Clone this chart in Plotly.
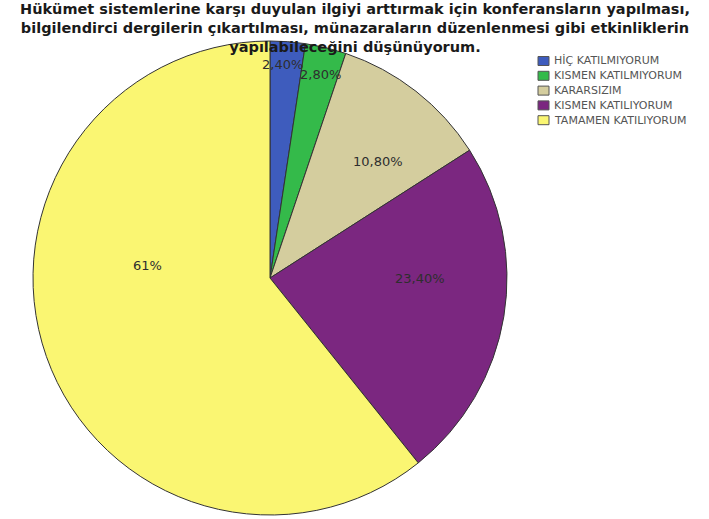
import plotly.graph_objects as go

categories = ["HİÇ KATILMIYORUM", "KISMEN KATILMIYORUM", "KARARSIZIM",
              "KISMEN KATILIYORUM", "TAMAMEN KATILIYORUM"]
values = [2.40, 2.80, 10.80, 23.40, 61.0]
value_labels = ["2,40%", "2,80%", "10,80%", "23,40%", "61%"]
colors = ["#3e5cbd", "#34ba4a", "#d4cd9e", "#7b2780", "#faf672"]

title_lines = [
    "Hükümet sistemlerine karşı duyulan ilgiyi arttırmak için konferansların yapılması,",
    "bilgilendirci dergilerin çıkartılması, münazaraların düzenlenmesi gibi etkinliklerin",
    "yapılabileceğini düşünüyorum.",
]

W, H = 709, 519


def X(px):
    return px / W


def Y(py):
    return 1 - py / H


cx, cy, r = 270, 278, 237

fig = go.Figure(go.Pie(
    labels=categories,
    values=values,
    sort=False,
    direction="clockwise",
    rotation=0,
    marker=dict(colors=colors, line=dict(color="#333333", width=1)),
    textinfo="none",
    hoverinfo="label+percent",
    showlegend=False,
    domain=dict(x=[X(cx - r), X(cx + r)], y=[Y(cy + r), Y(cy - r)]),
))

# value label placements (pixel centres in the window)
label_pos = [(282, 64), (320, 75), (378, 162), (420, 278), (147, 265)]
for txt, (px, py) in zip(value_labels, label_pos):
    fig.add_annotation(x=X(px), y=Y(py), xref="paper", yref="paper",
                       xanchor="center", yanchor="middle", borderpad=0,
                       text=txt, showarrow=False,
                       font=dict(family="DejaVu Sans", size=13, color="#2e2e2e"))

# title, three centred lines
fig.add_annotation(x=X(355), y=Y(0), xref="paper", yref="paper",
                   xanchor="center", yanchor="top", borderpad=0,
                   text="<b>" + "<br>".join(title_lines) + "</b>", showarrow=False,
                   font=dict(family="DejaVu Sans", size=14.5, color="#1a1a1a"))

# legend: colour swatches with category names
leg_x, leg_y0, leg_dy, sw_w, sw_h = 538, 61, 14.8, 11, 9
for i, (name, col) in enumerate(zip(categories, colors)):
    yc = leg_y0 + leg_dy * i
    fig.add_shape(type="rect", xref="paper", yref="paper",
                  x0=X(leg_x), x1=X(leg_x + sw_w), y0=Y(yc + sw_h / 2), y1=Y(yc - sw_h / 2),
                  fillcolor=col, line=dict(color="#555555", width=1))
    fig.add_annotation(x=X(leg_x + sw_w + 3), y=Y(yc), xref="paper", yref="paper",
                       xanchor="left", yanchor="middle", text=name, showarrow=False,
                       font=dict(family="DejaVu Sans", size=11, color="#555555"))

fig.update_layout(
    width=W, height=H,
    margin=dict(l=0, r=0, t=0, b=0),
    paper_bgcolor="white",
    showlegend=False,
)

# let the figure fill the window from its top-left corner
fig.write_html("out.html", config={"displayModeBar": False},
               post_script="document.body.style.margin='0';")
